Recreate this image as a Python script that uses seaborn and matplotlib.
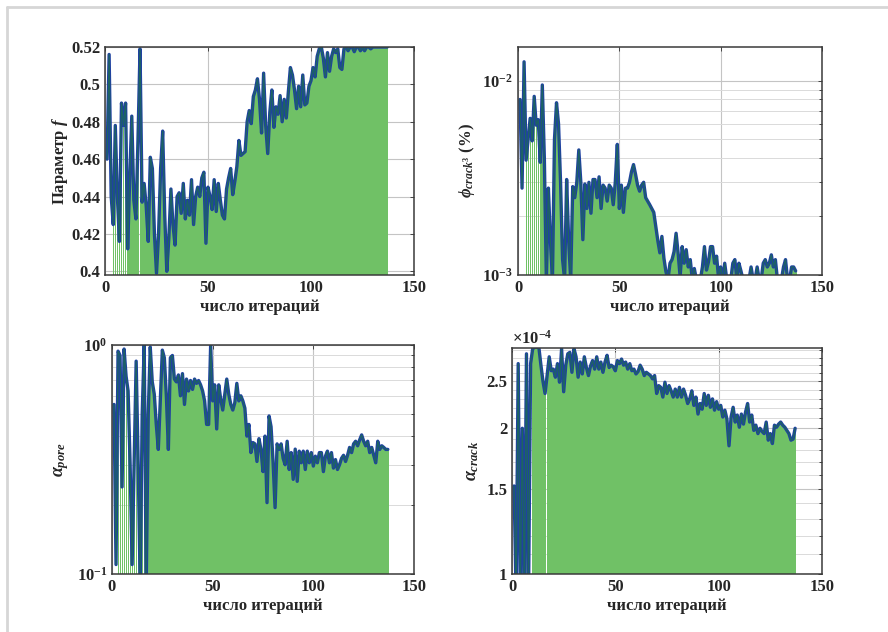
import numpy as np
import seaborn as sns
import matplotlib.pyplot as plt
from matplotlib.lines import Line2D
from matplotlib.ticker import FixedLocator, NullLocator, NullFormatter, LogLocator

# номера итераций
iters = np.arange(1, 138)

# параметр f
param_f = [0.46, 0.516, 0.44, 0.425, 0.478, 0.44, 0.416, 0.49, 0.478, 0.49,
           0.412, 0.45, 0.483, 0.438, 0.428, 0.47, 0.519, 0.437, 0.447, 0.435,
           0.416, 0.461, 0.455, 0.42, 0.399, 0.42, 0.455, 0.475, 0.43, 0.40,
           0.418, 0.444, 0.425, 0.414, 0.44, 0.442, 0.431, 0.447, 0.428, 0.438,
           0.43, 0.449, 0.425, 0.44, 0.445, 0.44, 0.45, 0.453, 0.415, 0.445,
           0.44, 0.433, 0.449, 0.432, 0.447, 0.438, 0.43, 0.428, 0.444, 0.45,
           0.455, 0.441, 0.448, 0.456, 0.47, 0.462, 0.463, 0.464, 0.48, 0.486,
           0.479, 0.4935, 0.497, 0.503, 0.492, 0.474, 0.506, 0.478, 0.463, 0.485,
           0.497, 0.477, 0.488, 0.484, 0.494, 0.48, 0.492, 0.482, 0.496, 0.509,
           0.505, 0.497, 0.487, 0.499, 0.488, 0.505, 0.489, 0.49, 0.499, 0.502,
           0.509, 0.504, 0.515, 0.519, 0.52, 0.514, 0.504, 0.517, 0.507, 0.515,
           0.519, 0.517, 0.519, 0.509, 0.508, 0.519, 0.52, 0.518, 0.52, 0.52,
           0.5175, 0.52, 0.52, 0.518, 0.52, 0.518, 0.52, 0.52, 0.519, 0.52,
           0.52, 0.52, 0.52, 0.52, 0.52, 0.52, 0.52]

# phi crack (%)
phi_crack = [0.0080, 0.0028, 0.0125, 0.0039, 0.0050, 0.0064, 0.0049, 0.0083, 0.0059, 0.0063,
             0.0038, 0.0095, 0.0040, 0.00095, 0.0028, 0.0015, 0.00095, 0.0050, 0.0077, 0.0060,
             0.0030, 0.0012, 0.00095, 0.0031, 0.0015, 0.00095, 0.00285, 0.0025, 0.0030, 0.0044,
             0.0030, 0.00152, 0.00294, 0.0022, 0.0030, 0.00208, 0.0031, 0.0031, 0.0025, 0.0032,
             0.0022, 0.0029, 0.0028, 0.0024, 0.0029, 0.0028, 0.0023, 0.0030, 0.0047, 0.0022,
             0.0029, 0.0021, 0.0028, 0.0028, 0.0030, 0.0034, 0.0037, 0.0033, 0.0029, 0.0027,
             0.0029, 0.0030, 0.0025, 0.0024, 0.0023, 0.0022, 0.0021, 0.00178, 0.0015, 0.0013,
             0.00158, 0.00122, 0.00104, 0.00095, 0.00115, 0.0012, 0.00132, 0.00164, 0.0013, 0.00098,
             0.0014, 0.00115, 0.00135, 0.0011, 0.0012, 0.00095, 0.00108, 0.00095, 0.00095, 0.00095,
             0.0011, 0.0014, 0.00106, 0.00117, 0.0014, 0.0014, 0.00115, 0.00125, 0.00095, 0.0011,
             0.00095, 0.00115, 0.00095, 0.00095, 0.00095, 0.00115, 0.0012, 0.00095, 0.00115, 0.00105,
             0.00095, 0.00095, 0.00095, 0.00095, 0.0011, 0.00095, 0.00095, 0.0011, 0.00095, 0.00095,
             0.00115, 0.0012, 0.0011, 0.00115, 0.00127, 0.0011, 0.0012, 0.00095, 0.00095, 0.00095,
             0.0011, 0.0012, 0.00095, 0.00095, 0.0011, 0.0011, 0.00105]

# alpha pore
alpha_pore = [0.55, 0.11, 0.94, 0.9, 0.24, 0.96, 0.73, 0.63, 0.3, 0.11,
              0.3, 0.85, 0.3, 0.09, 0.5, 1.0, 0.09, 0.5, 0.98, 0.69,
              0.61, 0.45, 0.35, 0.58, 0.95, 0.88, 0.6, 0.35, 0.88, 0.9,
              0.71, 0.69, 0.74, 0.6, 0.75, 0.55, 0.71, 0.63, 0.70, 0.64,
              0.71, 0.68, 0.70, 0.67, 0.63, 0.57, 0.45, 0.45, 1.0, 0.57,
              0.67, 0.43, 0.67, 0.58, 0.52, 0.61, 0.71, 0.61, 0.55, 0.52,
              0.56, 0.68, 0.57, 0.6, 0.57, 0.53, 0.40, 0.45, 0.339, 0.375,
              0.37, 0.31, 0.39, 0.35, 0.28, 0.40, 0.205, 0.49, 0.44, 0.31,
              0.195, 0.37, 0.35, 0.37, 0.32, 0.30, 0.38, 0.286, 0.339, 0.259,
              0.351, 0.254, 0.344, 0.306, 0.344, 0.286, 0.344, 0.306, 0.339, 0.296,
              0.327, 0.306, 0.339, 0.339, 0.28, 0.327, 0.344, 0.306, 0.339, 0.29,
              0.316, 0.286, 0.3, 0.32, 0.33, 0.31, 0.33, 0.357, 0.339, 0.37,
              0.38, 0.363, 0.385, 0.405, 0.38, 0.363, 0.38, 0.339, 0.357, 0.33,
              0.306, 0.38, 0.35, 0.363, 0.357, 0.35, 0.35]

# alpha crack, x1e-4
alpha_crack = [1.52, 0.9, 2.72, 0.9, 2.0, 0.9, 2.85, 0.9, 2.72, 2.92,
               2.94, 2.94, 2.94, 2.7, 2.5, 2.36, 2.57, 2.81, 2.63, 2.65,
               2.55, 2.72, 2.49, 2.92, 2.38, 2.7, 2.85, 2.87, 2.61, 2.92,
               2.81, 2.55, 2.74, 2.59, 2.81, 2.67, 2.57, 2.69, 2.76, 2.65,
               2.81, 2.65, 2.74, 2.61, 2.74, 2.83, 2.67, 2.7, 2.68, 2.63,
               2.76, 2.72, 2.78, 2.70, 2.74, 2.65, 2.72, 2.63, 2.65, 2.59,
               2.62, 2.70, 2.65, 2.57, 2.61, 2.59, 2.57, 2.53, 2.57, 2.36,
               2.45, 2.43, 2.32, 2.49, 2.36, 2.45, 2.39, 2.32, 2.41, 2.32,
               2.43, 2.32, 2.41, 2.34, 2.25, 2.30, 2.39, 2.23, 2.32, 2.14,
               2.25, 2.19, 2.36, 2.23, 2.34, 2.21, 2.30, 2.18, 2.27, 2.19,
               2.23, 2.11, 2.18, 2.09, 1.84, 2.11, 2.21, 2.06, 2.13, 2.01,
               2.14, 2.04, 2.16, 2.25, 2.06, 2.13, 1.98, 2.03, 1.95, 2.0,
               1.97, 1.95, 2.06, 1.89, 1.95, 1.86, 2.03, 2.01, 2.04, 2.06,
               2.03, 2.01, 1.98, 1.95, 1.89, 1.90, 2.0]

# итерации без заливки / с узкой заливкой
skip_f, thin_f = [1, 2, 3], [4, 5, 6, 7, 8, 9, 10, 17]
skip_phi, thin_phi = [1, 2, 3], [4, 5, 6, 7, 8, 9, 10, 11]
skip_pore, thin_pore = [1, 2], [3, 4, 5, 6, 7, 8, 9, 10, 11, 12, 13, 14, 15, 16, 17]
skip_crack, thin_crack = [1, 2, 3, 9], [4, 5, 6, 7, 8, 17]

sns.set_theme(style="white")
plt.rcParams['font.family'] = ['Liberation Serif', 'DejaVu Serif']
plt.rcParams['font.weight'] = 'bold'
plt.rcParams['mathtext.fontset'] = 'custom'
plt.rcParams['mathtext.rm'] = 'Liberation Serif:bold'
plt.rcParams['mathtext.bf'] = 'Liberation Serif:bold'
plt.rcParams['mathtext.it'] = 'Liberation Serif:italic:bold'

GREEN = '#70c166'
BLUE = '#1f42a0'
TEAL = '#1d6462'

fig = plt.figure(figsize=(8.88, 6.32), dpi=100)
W, H = 888, 632


def make_ax(l, r, t, b):
    return fig.add_axes([l / W, 1 - b / H, (r - l) / W, (b - t) / H])


def panel(ax, vals, skip, thin, base):
    widths = [0 if i in skip else (0.5 if i in thin else 1.0) for i in iters]
    ax.bar(iters, np.array(vals) - base, bottom=base, width=widths,
           color=GREEN, linewidth=0, zorder=2)
    sns.lineplot(x=iters, y=vals, ax=ax, color=BLUE, lw=2.4, estimator=None, zorder=3)
    sns.lineplot(x=iters, y=vals, ax=ax, color=TEAL, lw=0.9, estimator=None, zorder=4)
    ax.set_xlim(0, 150)
    ax.set_xticks([0, 50, 100, 150])
    ax.xaxis.set_minor_locator(NullLocator())
    ax.set_xlabel('число итераций', fontsize=12, fontweight='bold', labelpad=2)
    ax.grid(True, which='major', color='#c4c4c4', lw=0.8, zorder=0)
    ax.set_axisbelow(True)
    ax.tick_params(which='both', direction='in', top=True, right=True,
                   labelsize=12, length=3, width=0.7, color='#444444')
    ax.tick_params(which='minor', length=2)
    for s in ax.spines.values():
        s.set_color('#3a3a3a')
        s.set_linewidth(1.1)
        s.set_zorder(5)


# Параметр f
ax1 = make_ax(105, 414, 47, 275)
panel(ax1, param_f, skip_f, thin_f, 0.3)
ax1.set_ylim(0.398, 0.52)
ax1.set_yticks([0.4, 0.42, 0.44, 0.46, 0.48, 0.5, 0.52],
               ['0.4', '0.42', '0.44', '0.46', '0.48', '0.5', '0.52'])
ax1.set_ylabel(r'Параметр $f$', fontsize=12, fontweight='bold', labelpad=1)

# phi crack
ax2 = make_ax(518, 822, 47, 275)
ax2.set_yscale('log')
panel(ax2, phi_crack, skip_phi, thin_phi, 1e-4)
ax2.set_ylim(1e-3, 0.0149)
ax2.set_yticks([1e-3, 1e-2], [r'$10^{-3}$', r'$10^{-2}$'])
ax2.yaxis.set_minor_locator(LogLocator(base=10, subs=np.arange(2, 10)))
ax2.yaxis.set_minor_formatter(NullFormatter())
ax2.grid(True, which='minor', axis='y', color='#dadada', lw=0.7)
ax2.set_ylabel(r'$\phi_{crack^3}$ (%)', fontsize=12, fontweight='bold', labelpad=4)

# alpha pore
ax3 = make_ax(112, 414, 345, 574)
ax3.set_yscale('log')
panel(ax3, alpha_pore, skip_pore, thin_pore, 1e-3)
ax3.set_ylim(0.1, 1.0)
ax3.set_yticks([0.1, 1.0], [r'$10^{-1}$', r'$10^{0}$'])
ax3.yaxis.set_minor_locator(LogLocator(base=10, subs=np.arange(2, 10)))
ax3.yaxis.set_minor_formatter(NullFormatter())
ax3.grid(True, which='minor', axis='y', color='#dadada', lw=0.7)
ax3.set_ylabel(r'$\alpha_{pore}$', fontsize=13, labelpad=4)

# alpha crack
ax4 = make_ax(512, 822, 348, 574)
ax4.set_yscale('log')
panel(ax4, alpha_crack, skip_crack, thin_crack, 0.1)
ax4.set_ylim(1.0, 2.93)
ax4.set_yticks([1, 1.5, 2, 2.5], ['1', '1.5', '2', '2.5'])
ax4.yaxis.set_minor_locator(FixedLocator([v / 10 for v in range(11, 30) if v not in (15, 20, 25)]))
ax4.yaxis.set_minor_formatter(NullFormatter())
ax4.grid(True, which='minor', axis='y', color='#dadada', lw=0.7)
ax4.set_ylabel(r'$\alpha_{crack}$', fontsize=13, labelpad=4)
ax4.text(0.0, 1.0, r'$\times10^{-4}$', transform=ax4.transAxes,
         fontsize=12, ha='left', va='bottom')

# рамка рисунка
fig.add_artist(Line2D([7 / W, 7 / W], [0, 1 - 7 / H], transform=fig.transFigure,
                      color='#d6d6d6', lw=2))
fig.add_artist(Line2D([7 / W, 1], [1 - 7 / H, 1 - 7 / H], transform=fig.transFigure,
                      color='#d6d6d6', lw=2))

fig.savefig('out.png', dpi=100)
